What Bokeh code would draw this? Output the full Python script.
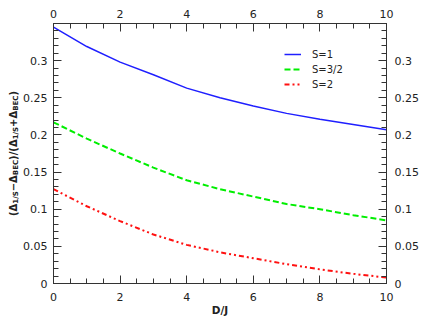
import math
from bokeh.plotting import figure
from bokeh.layouts import row
from bokeh.models import (Range1d, LinearAxis, SingleIntervalTicker, CustomJSTickFormatter,
                          Legend, LegendItem, ColumnDataSource)
from bokeh.core.properties import value
from bokeh.embed import file_html
from bokeh.resources import INLINE

# ---- data ----
dj = [0, 1, 2, 3, 4, 5, 6, 7, 8, 9, 10]
s1 = [0.345, 0.319, 0.298, 0.281, 0.263, 0.250, 0.239, 0.229, 0.221, 0.214, 0.207]
s32 = [0.217, 0.195, 0.175, 0.156, 0.139, 0.127, 0.117, 0.107, 0.100, 0.092, 0.085]
s2 = [0.127, 0.104, 0.084, 0.066, 0.052, 0.042, 0.034, 0.026, 0.019, 0.013, 0.008]
series_names = ["S=1", "S=3/2", "S=2"]
x_label = "D/J"

X0, X1 = 0, 10
Y0, Y1 = 0, 0.35

FONT = "DejaVu Sans"
TXT = "#222222"
AX = "#333333"

TOP, BOTTOM = 23, 40
LBL_W = 20
H = 323

p = figure(width=424 - LBL_W, height=H, output_backend="svg", toolbar_location=None,
           x_range=Range1d(X0, X1), y_range=Range1d(Y0, Y1),
           min_border_left=51 - LBL_W, min_border_right=38,
           min_border_top=TOP, min_border_bottom=BOTTOM)
p.xgrid.visible = False
p.ygrid.visible = False
p.outline_line_color = AX

fmt = CustomJSTickFormatter(
    code="if (tick > 0.34 && tick < 1) return ''; return String(parseFloat(tick.toFixed(3)));")

def style_axis(ax, xaxis):
    ax.ticker = (SingleIntervalTicker(interval=2, num_minor_ticks=4) if xaxis
                 else SingleIntervalTicker(interval=0.05, num_minor_ticks=5))
    ax.formatter = fmt
    ax.major_tick_in = 8
    ax.major_tick_out = 0
    ax.minor_tick_in = 5
    ax.minor_tick_out = 0
    ax.axis_line_color = AX
    ax.major_tick_line_color = AX
    ax.minor_tick_line_color = AX
    ax.major_label_text_font = FONT
    ax.major_label_text_font_size = "11px"
    ax.major_label_text_color = TXT

xb = p.xaxis[0]
style_axis(xb, True)
xb.major_label_standoff = 9
xb.axis_label = x_label
xb.axis_label_text_font = FONT
xb.axis_label_text_font_style = "bold"
xb.axis_label_text_font_size = "10.5px"
xb.axis_label_text_color = TXT
xb.axis_label_standoff = 0

yl = p.yaxis[0]
style_axis(yl, False)
yl.major_label_standoff = 6

xt = LinearAxis()
style_axis(xt, True)
xt.major_label_standoff = 6
p.add_layout(xt, "above")

yr = LinearAxis()
style_axis(yr, False)
yr.major_label_standoff = 8
p.add_layout(yr, "right")

r1 = p.line(dj, s1, line_color="#1f1fff", line_width=1.5)
r2 = p.line(dj, s32, line_color="#00ee00", line_width=2, line_dash="6 3")
r3 = p.line(dj, s2, line_color="#ff1010", line_width=2, line_dash="5 3 2 3 2 3")

legend = Legend(items=[LegendItem(label=series_names[0], renderers=[r1]),
                       LegendItem(label=series_names[1], renderers=[r2]),
                       LegendItem(label=series_names[2], renderers=[r3])],
                location=(231, 192), padding=0, margin=0, spacing=1,
                border_line_color=None, background_fill_alpha=0,
                glyph_width=17, glyph_height=14, label_height=14, label_standoff=11,
                label_text_font=FONT, label_text_font_size="10px", label_text_color=TXT)
p.add_layout(legend)

# ---- y axis label with subscripts, drawn in a narrow side figure ----
q = figure(width=LBL_W, height=H, output_backend="svg", toolbar_location=None,
           x_range=Range1d(0, LBL_W), y_range=p.y_range,
           x_axis_location=None, y_axis_location=None,
           min_border_left=0, min_border_right=0,
           min_border_top=TOP, min_border_bottom=BOTTOM)
q.xgrid.visible = False
q.ygrid.visible = False
q.outline_line_color = None

FRAME_H = H - TOP - BOTTOM
px_y = (Y1 - Y0) / FRAME_H
em = {"(": 0.457, ")": 0.457, "/": 0.365, "+": 0.838, "\u2212": 0.838, "\u0394": 0.774,
      "1": 0.696, "S": 0.720, "B": 0.762, "E": 0.683, "C": 0.734}
pieces = [("(\u0394", False), ("1/S", True), ("\u2212\u0394", False), ("BEC", True),
          (")/(\u0394", False), ("1/S", True), ("+\u0394", False), ("BEC", True), (")", False)]
MAIN, SUB = 10.0, 7.0
widths = [sum(em[c] for c in t) * (SUB if sub else MAIN) for t, sub in pieces]
total = sum(widths)
start = (Y0 + Y1) / 2 - total / 2 * px_y
mid_x = 13.0
main = dict(x=[], y=[], t=[])
subs = dict(x=[], y=[], t=[])
off = 0.0
for (t, sub), w in zip(pieces, widths):
    d = subs if sub else main
    d["x"].append(mid_x + (2.5 if sub else 0.0))
    d["y"].append(start + off * px_y)
    d["t"].append(t)
    off += w
for d, size in ((main, MAIN), (subs, SUB)):
    q.text(x="x", y="y", text="t", source=ColumnDataSource(d), angle=math.pi / 2,
           text_align="left", text_baseline="middle", text_font=value(FONT),
           text_font_style="bold", text_font_size=value(f"{size}px"), text_color=TXT)

layout = row(q, p)
open("out.html", "w").write(file_html(layout, INLINE))
